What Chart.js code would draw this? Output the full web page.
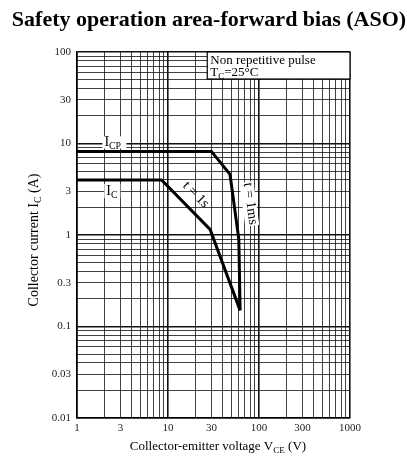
<!DOCTYPE html>
<html>
<head>
<meta charset="utf-8">
<script src="https://cdn.jsdelivr.net/npm/chart.js@4.4.1/dist/chart.umd.min.js"></script>
<style>
  html, body { margin: 0; padding: 0; background: #fff; }
  #wrap { width: 407px; height: 464px; }
</style>
</head>
<body>
<div id="wrap"><canvas id="aso"></canvas></div>
<script>
// values
var icpVce = [1, 30, 48, 60, 62];
var icpCurrent = [8.2, 8.2, 4.6, 0.9, 0.15];
var icVce = [1, 8.5, 29, 62];
var icCurrent = [4, 4, 1.15, 0.15];

var xLabels = [1, 3, 10, 30, 100, 300, 1000];
var yLabels = [0.01, 0.03, 0.1, 0.3, 1, 3, 10, 30, 100];

var serif = "'Liberation Serif', 'DejaVu Serif', serif";

// 1..9 in every decade
var logGrid = function (lo, hi) {
    var out = [];
    for (var d = lo; d < hi; d *= 10) {
        for (var m = 1; m < 10; m++) out.push(+(m * d).toPrecision(3));
    }
    out.push(hi);
    return out;
}

var isDecade = function (v) {
    var l = Math.log10(v);
    return Math.abs(l - Math.round(l)) < 1e-6;
}

var toPoints = function (xs, ys) {
    return xs.map(function (x, i) { return { x: x, y: ys[i] }; });
}

var labelFmt = function (list) {
    return function (v) {
        for (var i = 0; i < list.length; i++) {
            if (Math.abs(list[i] - v) / v < 1e-6) return String(list[i]);
        }
        return '';
    }
}

// text with a subscript part
var subText = function (ctx, x, y, main, sub, rest, size, align) {
    ctx.font = size + 'px ' + serif;
    var w1 = ctx.measureText(main).width;
    ctx.font = (size * 0.7) + 'px ' + serif;
    var w2 = ctx.measureText(sub).width;
    ctx.font = size + 'px ' + serif;
    var w3 = ctx.measureText(rest).width;
    var total = w1 + w2 + w3;
    var sx = align === 'center' ? x - total / 2 : x;
    ctx.textAlign = 'left';
    ctx.textBaseline = 'alphabetic';
    ctx.fillText(main, sx, y);
    ctx.font = (size * 0.7) + 'px ' + serif;
    ctx.fillText(sub, sx + w1, y + size * 0.2);
    ctx.font = size + 'px ' + serif;
    ctx.fillText(rest, sx + w1 + w2, y);
    return total;
}

var decor = {
    id: 'decor',
    afterDraw: function (chart) {
        var ctx = chart.ctx;
        var xs = chart.scales.x, ys = chart.scales.y;
        ctx.save();
        ctx.fillStyle = '#000';

        // title
        ctx.font = 'bold 22px ' + serif;
        ctx.textAlign = 'center';
        ctx.textBaseline = 'alphabetic';
        ctx.fillText('Safety operation area-forward bias (ASO)', 209, 26);

        // axis titles
        subText(ctx, 218, 450, 'Collector-emitter voltage V', 'CE', ' (V)', 13, 'center');
        ctx.save();
        ctx.translate(38, 240);
        ctx.rotate(-Math.PI / 2);
        subText(ctx, 0, 0, 'Collector current I', 'C', ' (A)', 14, 'center');
        ctx.restore();

        // condition box
        var bx = xs.getPixelForValue(27), by = chart.chartArea.top;
        var bw = chart.chartArea.right - bx, bh = 27;
        ctx.fillStyle = '#fff';
        ctx.fillRect(bx, by, bw, bh);
        ctx.strokeStyle = '#000';
        ctx.lineWidth = 1.2;
        ctx.strokeRect(bx, by, bw, bh);
        ctx.fillStyle = '#000';
        ctx.font = '13px ' + serif;
        ctx.textAlign = 'left';
        ctx.fillText('Non repetitive pulse', bx + 3, by + 12);
        subText(ctx, bx + 3, by + 24, 'T', 'C', '=25\u00b0C', 13, 'left');

        // I_CP and I_C labels
        ctx.fillStyle = '#fff';
        var px = xs.getPixelForValue(2), py = ys.getPixelForValue(icpCurrent[0]);
        ctx.fillRect(px - 2, py - 15, 24, 12);
        ctx.fillStyle = '#000';
        subText(ctx, px, py - 5, 'I', 'CP', '', 14, 'left');

        var qx = xs.getPixelForValue(2.1), qy = ys.getPixelForValue(icCurrent[0]);
        ctx.fillStyle = '#fff';
        ctx.fillRect(qx - 2, qy + 4, 16, 14);
        ctx.fillStyle = '#000';
        subText(ctx, qx, qy + 15, 'I', 'C', '', 14, 'left');

        // t = 1s along the 1 s line
        var a1x = xs.getPixelForValue(icVce[1]), a1y = ys.getPixelForValue(icCurrent[1]);
        var a2x = xs.getPixelForValue(icVce[2]), a2y = ys.getPixelForValue(icCurrent[2]);
        var ang = Math.atan2(a2y - a1y, a2x - a1x);
        ctx.save();
        ctx.translate((a1x + a2x) / 2 + 5, (a1y + a2y) / 2 - 5);
        ctx.rotate(ang);
        ctx.font = '14px ' + serif;
        ctx.textAlign = 'center';
        ctx.textBaseline = 'bottom';
        ctx.fillText('t = 1s', 0, 0);
        ctx.restore();

        // t = 1ms along the 1 ms line
        var b1x = xs.getPixelForValue(icpVce[2]), b1y = ys.getPixelForValue(icpCurrent[2]);
        var b2x = xs.getPixelForValue(icpVce[3]), b2y = ys.getPixelForValue(icpCurrent[3]);
        var ang2 = Math.atan2(b2y - b1y, b2x - b1x);
        ctx.save();
        ctx.translate((b1x + b2x) / 2 + 8, (b1y + b2y) / 2 - 2);
        ctx.rotate(ang2);
        ctx.font = '14px ' + serif;
        var tw = ctx.measureText('t = 1ms').width;
        ctx.fillStyle = '#fff';
        ctx.fillRect(-tw / 2 - 1, -14, tw + 2, 14);
        ctx.fillStyle = '#000';
        ctx.textAlign = 'center';
        ctx.textBaseline = 'bottom';
        ctx.fillText('t = 1ms', 0, -1);
        ctx.restore();

        ctx.restore();
    }
}

new Chart("aso", {
    type: "scatter",
    data: {
        datasets: [{
            data: toPoints(icpVce, icpCurrent),
            showLine: true,
            borderColor: '#000',
            borderWidth: 3,
            pointRadius: 0,
            tension: 0
        }, {
            data: toPoints(icVce, icCurrent),
            showLine: true,
            borderColor: '#000',
            borderWidth: 3,
            pointRadius: 0,
            tension: 0
        }]
    },
    options: {
        responsive: true,
        maintainAspectRatio: false,
        animation: false,
        layout: { padding: { left: 0, right: 57, top: 52, bottom: 0 } },
        plugins: {
            legend: false,
            tooltip: false,
            title: { display: false }
        },
        scales: {
            x: {
                type: 'logarithmic',
                min: 1,
                max: 1000,
                afterBuildTicks: function (s) {
                    s.ticks = logGrid(1, 1000).map(function (v) { return { value: v }; });
                },
                afterFit: function (s) { s.height = 46; },
                ticks: {
                    autoSkip: false,
                    maxRotation: 0,
                    padding: 4,
                    color: '#222',
                    font: { family: serif, size: 11 },
                    callback: labelFmt(xLabels)
                },
                grid: {
                    color: '#111',
                    drawTicks: false,
                    lineWidth: function (c) { return c.tick && isDecade(c.tick.value) ? 1.6 : 0.8; }
                },
                border: { display: true, color: '#000', width: 1.5 }
            },
            y: {
                type: 'logarithmic',
                min: 0.01,
                max: 100,
                afterBuildTicks: function (s) {
                    s.ticks = logGrid(0.01, 100).map(function (v) { return { value: v }; });
                },
                afterFit: function (s) { s.width = 77; },
                ticks: {
                    autoSkip: false,
                    padding: 6,
                    color: '#222',
                    font: { family: serif, size: 11 },
                    callback: labelFmt(yLabels)
                },
                grid: {
                    color: '#111',
                    drawTicks: false,
                    lineWidth: function (c) { return c.tick && isDecade(c.tick.value) ? 1.6 : 0.8; }
                },
                border: { display: true, color: '#000', width: 1.5 }
            }
        }
    },
    plugins: [decor]
});
</script>
</body>
</html>
